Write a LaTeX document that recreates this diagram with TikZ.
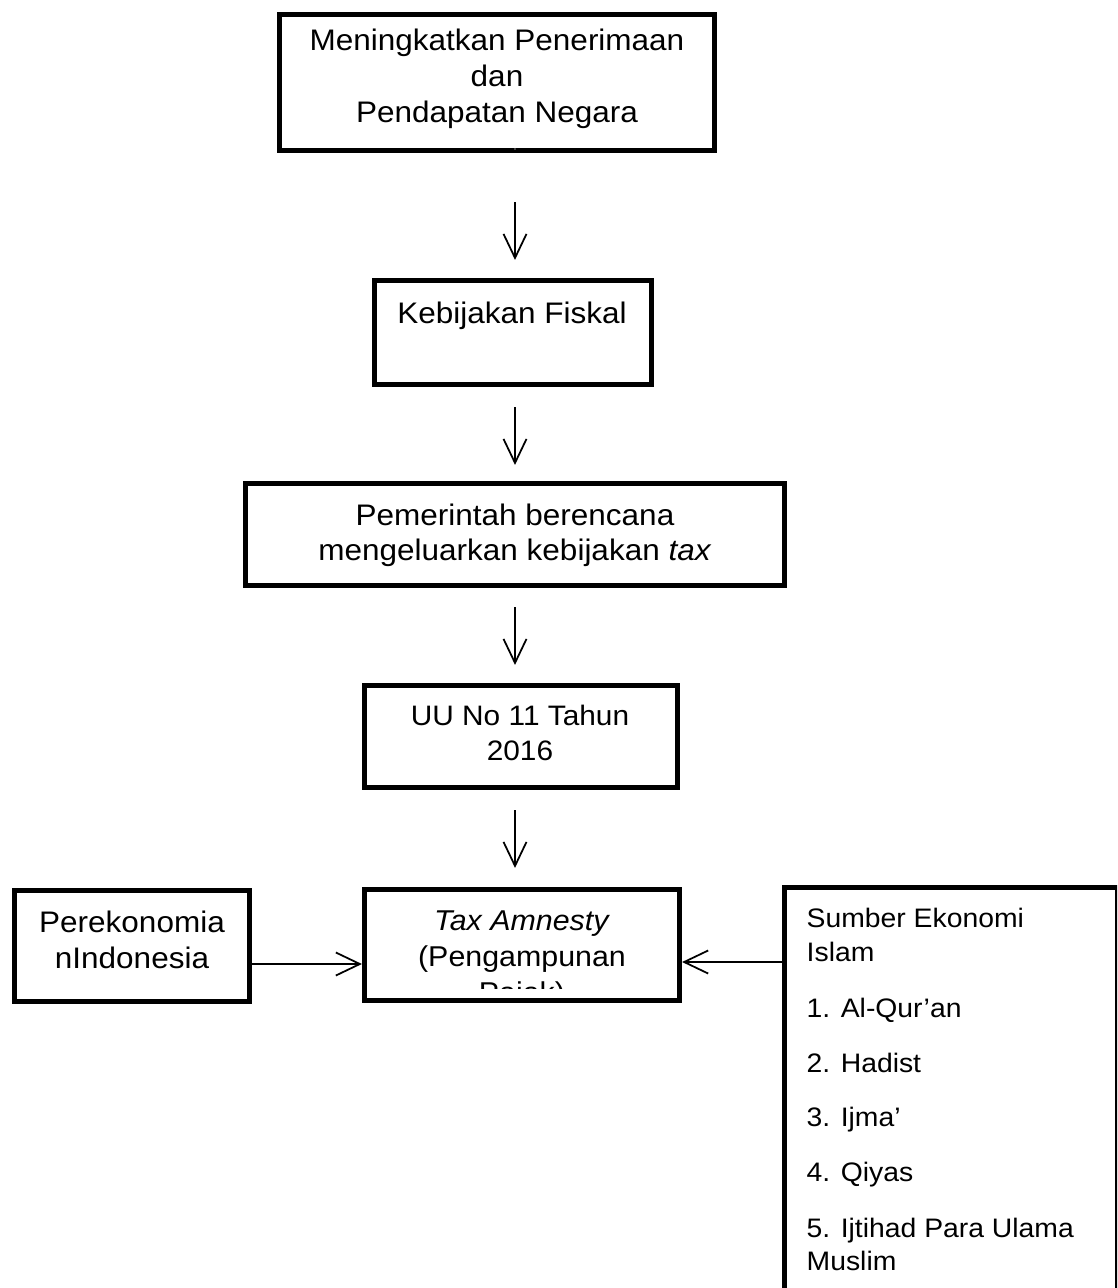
\documentclass[tikz,border=0pt]{standalone}
\usepackage{fontspec}
\setmainfont{Liberation Sans}[FakeStretch=1.06]
\usetikzlibrary{arrows.meta}
\newcommand\fMain{\fontsize{8.45pt}{10pt}\selectfont}
\newcommand\fUU{\fontsize{8.0pt}{10pt}\selectfont}
\newcommand\fTA{\fontsize{8.15pt}{10pt}\selectfont}
\newcommand\fSrc{\fontsize{7.6pt}{10pt}\selectfont}
\begin{document}
\begin{tikzpicture}[x=0.01cm,y=-0.01cm,
  box/.style={draw, line width=1.42pt, rectangle, inner sep=0pt},
  lbl/.style={anchor=base, inner sep=0pt},
  lbll/.style={anchor=base west, inner sep=0pt},
  arr/.style={line width=0.5pt, -{Straight Barb[length=0.24cm,width=0.23cm]}}]
\clip (0,0) rectangle (1117,1288);
\fill[white] (0,0) rectangle (1117,1288);

% boxes
\node[box, minimum width=4.35cm, minimum height=1.36cm] (n1) at (497,82.5) {};
\node[box, minimum width=2.77cm, minimum height=1.04cm] (n2) at (513,332.5) {};
\node[box, minimum width=5.39cm, minimum height=1.02cm] (n3) at (515,534.5) {};
\node[box, minimum width=3.13cm, minimum height=1.02cm] (n4) at (521,736.5) {};
\node[box, minimum width=3.15cm, minimum height=1.11cm] (ta) at (522,945) {};
\node[box, minimum width=2.35cm, minimum height=1.11cm] (eko) at (132,946) {};
\node[box, minimum width=3.33cm, minimum height=5.13cm] (src) at (951,1144) {};

% tiny mark in top box
\fill[gray] (515,149) circle (0.9);

% texts
\node[lbl, font=\fMain] (t1a) at (497,50.5) {Meningkatkan Penerimaan};
\node[lbl, font=\fMain] (t1b) at (497,87) {dan};
\node[lbl, font=\fMain] (t1c) at (497,123) {Pendapatan Negara};

\node[lbl, font=\fMain] (t2) at (512,323) {Kebijakan Fiskal};

\node[lbl, font=\fMain] (t3a) at (515,525) {Pemerintah berencana};
\node[lbl, font=\fMain] (t3b) at (515,560) {mengeluarkan kebijakan \textit{tax}};

\node[lbl, font=\fUU] (t4a) at (520,725) {UU No 11 Tahun};
\node[lbl, font=\fUU] (t4b) at (520,760) {2016};

\node[lbl, font=\fTA] (t5a) at (522,930) {\textit{Tax Amnesty}};
\node[lbl, font=\fTA] (t5b) at (522,966) {(Pengampunan};
\begin{scope}
  \clip (365,890) rectangle (680,988);
  \node[lbl, font=\fTA] (t5c) at (522,1002) {Pajak)};
\end{scope}

\node[lbl, font=\fMain] (t6a) at (132,932) {Perekonomia};
\node[lbl, font=\fMain] (t6b) at (132,968) {nIndonesia};

\node[lbll, font=\fSrc] (t7a) at (806,927) {Sumber Ekonomi};
\node[lbll, font=\fSrc] (t7b) at (806,961) {Islam};
\node[lbll, font=\fSrc] (t7c) at (806,1017) {1. Al-Qur’an};
\node[lbll, font=\fSrc] (t7d) at (806,1072) {2. Hadist};
\node[lbll, font=\fSrc] (t7e) at (806,1126) {3. Ijma’};
\node[lbll, font=\fSrc] (t7f) at (806,1181) {4. Qiyas};
\node[lbll, font=\fSrc] (t7g) at (806,1237) {5. Ijtihad Para Ulama};
\node[lbll, font=\fSrc] (t7h) at (806,1270) {Muslim};

% connectors
\coordinate (ax) at (515,0);
\coordinate (hl) at (0,964);
\coordinate (hr) at (0,962);
\draw[arr, shorten <=0.49cm, shorten >=0.18cm] (n1.south -| ax) -- (n2.north -| ax);
\draw[arr, shorten <=0.20cm, shorten >=0.16cm] (n2.south -| ax) -- (n3.north -| ax);
\draw[arr, shorten <=0.19cm, shorten >=0.18cm] (n3.south -| ax) -- (n4.north -| ax);
\draw[arr, shorten <=0.20cm, shorten >=0.19cm] (n4.south -| ax) -- (ta.north -| ax);
\draw[arr] (eko.east |- hl) -- (ta.west |- hl);
\draw[arr] (src.west |- hr) -- (ta.east |- hr);
\end{tikzpicture}
\end{document}
